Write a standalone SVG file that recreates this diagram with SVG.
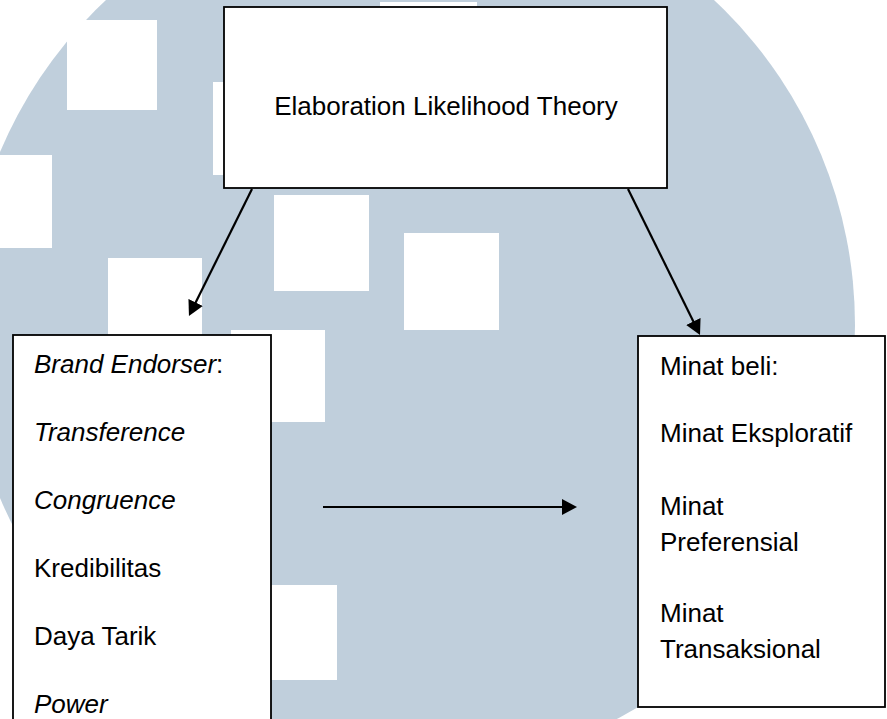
<svg xmlns="http://www.w3.org/2000/svg" width="887" height="719" viewBox="0 0 887 719">
  <style>
    .box { fill: #ffffff; stroke: #000000; stroke-width: 1.8; }
    .t { font-family: "Liberation Sans", Arial, sans-serif; font-size: 26px; fill: #000000; }
    .i { font-style: italic; }
    .conn { stroke: #000000; stroke-width: 2.2; fill: none; marker-end: url(#arrow); }
    .sq { fill: #ffffff; }
  </style>
  <defs>
    <marker id="arrow" markerUnits="userSpaceOnUse" markerWidth="16" markerHeight="16" refX="5" refY="8" orient="auto">
      <path d="M0,0 L15,8 L0,16 z" fill="#000000"/>
    </marker>
  </defs>

  <rect x="0" y="0" width="887" height="719" fill="#ffffff"/>

  <g id="watermark">
    <circle cx="410" cy="325" r="445" fill="#c0cfdc"/>
    <rect class="sq" x="67" y="20" width="90" height="90"/>
    <rect class="sq" x="-42" y="155" width="94" height="93"/>
    <rect class="sq" x="108" y="258" width="94" height="94"/>
    <rect class="sq" x="213" y="82" width="94" height="93"/>
    <rect class="sq" x="380" y="2" width="97" height="94"/>
    <rect class="sq" x="274" y="195" width="95" height="96"/>
    <rect class="sq" x="404" y="233" width="95" height="97"/>
    <rect class="sq" x="231" y="330" width="94" height="92"/>
    <rect class="sq" x="243" y="585" width="94" height="95"/>
  </g>

  <g id="connectors">
    <line class="conn" x1="252" y1="189" x2="193.4" y2="307"/>
    <line class="conn" x1="628" y1="189" x2="695.6" y2="326"/>
    <line class="conn" x1="323" y1="507" x2="567" y2="507"/>
  </g>

  <g id="theory">
    <rect class="box" x="224" y="7" width="443" height="181"/>
    <text class="t" x="446" y="115" text-anchor="middle">Elaboration Likelihood Theory</text>
  </g>

  <g id="brand-endorser">
    <rect class="box" x="13" y="335" width="258" height="400"/>
    <text class="t" x="34" y="373"><tspan class="i">Brand Endorser</tspan>:</text>
    <text class="t i" x="34" y="441">Transference</text>
    <text class="t i" x="34" y="509">Congruence</text>
    <text class="t" x="34" y="577">Kredibilitas</text>
    <text class="t" x="34" y="645">Daya Tarik</text>
    <text class="t i" x="34" y="713">Power</text>
  </g>

  <g id="minat-beli">
    <rect class="box" x="638" y="336" width="247" height="371"/>
    <text class="t" x="660" y="375">Minat beli:</text>
    <text class="t" x="660" y="442">Minat Eksploratif</text>
    <text class="t" x="660" y="515">Minat</text>
    <text class="t" x="660" y="551">Preferensial</text>
    <text class="t" x="660" y="622">Minat</text>
    <text class="t" x="660" y="658">Transaksional</text>
  </g>
</svg>
